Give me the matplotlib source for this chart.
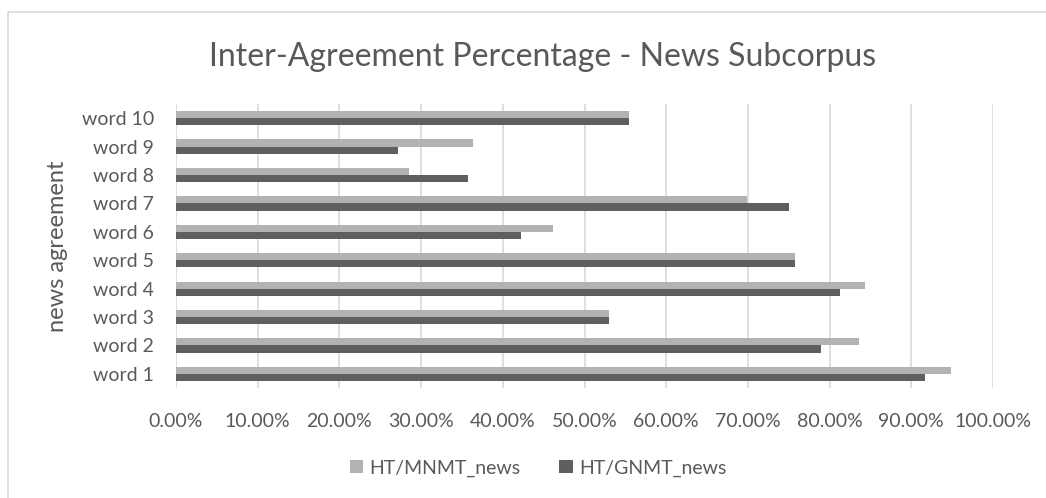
import matplotlib
matplotlib.use("Agg")
import matplotlib.pyplot as plt
import numpy as np
from matplotlib.patches import Rectangle
from matplotlib.ticker import PercentFormatter, MultipleLocator

categories = ["word 1", "word 2", "word 3", "word 4", "word 5",
              "word 6", "word 7", "word 8", "word 9", "word 10"]
mnmt_news = [0.949, 0.836, 0.530, 0.843, 0.758, 0.461, 0.699, 0.285, 0.363, 0.555]
gnmt_news = [0.917, 0.790, 0.530, 0.813, 0.758, 0.422, 0.750, 0.357, 0.272, 0.555]
series_names = ["HT/MNMT_news", "HT/GNMT_news"]

LIGHT = "#B2B2B2"
DARK = "#5F5F5F"
TEXT = "#595959"
GRID = "#D9D9D9"

plt.rcParams["font.family"] = ["Lato", "DejaVu Sans"]

W, H = 1046, 498
fig = plt.figure(figsize=(W / 100, H / 100), dpi=100)

# chart area border (cut off on the right and bottom)
fig.patches.append(Rectangle((8 / W, -0.2), 1.2, 1.2 - 12 / H,
                             transform=fig.transFigure, fill=False,
                             edgecolor=GRID, linewidth=1.2))

ax = fig.add_axes([176 / W, 1 - 388 / H, (993 - 176) / W, (388 - 104) / H])

y = np.arange(len(categories))
h = 0.25
ax.barh(y + h / 2, mnmt_news, height=h, color=LIGHT, label=series_names[0], zorder=3)
ax.barh(y - h / 2, gnmt_news, height=h, color=DARK, label=series_names[1], zorder=3)

ax.set_xlim(0, 1)
ax.set_ylim(-0.5, len(categories) - 0.5)
ax.xaxis.set_major_locator(MultipleLocator(0.1))
ax.xaxis.set_major_formatter(PercentFormatter(xmax=1, decimals=2))
ax.set_yticks(y)
ax.set_yticklabels(categories)

ax.grid(axis="x", color=GRID, linewidth=1.2, zorder=0)
for s in ax.spines.values():
    s.set_visible(False)
ax.tick_params(axis="both", length=0, labelsize=14, colors=TEXT)
ax.tick_params(axis="x", pad=18)
ax.tick_params(axis="y", pad=16)

fig.text(57 / W, 1 - 246 / H, "news agreement", rotation=90,
         ha="center", va="center", fontsize=17, color=TEXT)

fig.text(543 / W, 1 - 57 / H, "Inter-Agreement Percentage - News Subcorpus",
         ha="center", va="center", fontsize=23, color=TEXT)

handles, labels = ax.get_legend_handles_labels()
fig.legend(handles, labels, loc="center", bbox_to_anchor=(538 / W, 1 - 468 / H),
           ncol=2, frameon=False, fontsize=14, labelcolor=TEXT,
           handlelength=0.7, handleheight=0.7, handletextpad=0.3, columnspacing=2.0)

fig.savefig("out.png", dpi=100)
